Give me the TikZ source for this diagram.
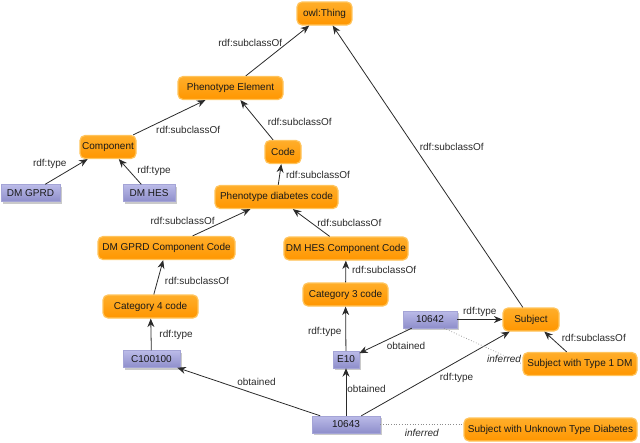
\documentclass[tikz,border=0pt]{standalone}
\usepackage{fontspec}
\setmainfont{Liberation Sans}
\usepackage{tikz}
\usetikzlibrary{arrows.meta,positioning,shadows}

\definecolor{classtop}{HTML}{FFAE2A}
\definecolor{classbot}{HTML}{FF9600}
\definecolor{classline}{HTML}{FFC45C}
\definecolor{insttop}{HTML}{BBBBE8}
\definecolor{instbot}{HTML}{8E8ECB}
\definecolor{instline}{HTML}{A4A4D6}
\definecolor{linkgray}{HTML}{2A2A2A}
\definecolor{dotgray}{HTML}{8C8C8C}

\begin{document}
\begin{tikzpicture}[x=1pt, y=-1pt, >={Stealth[length=8.5pt,width=7pt]},
	class/.style={draw=classline, line width=1.2pt, rounded corners=5pt,
		top color=classtop, bottom color=classbot, minimum height=23pt,
		inner xsep=2pt, text=black!90},
	inst/.style={draw=instline, line width=0.4pt, top color=insttop,
		bottom color=instbot, minimum height=17pt, inner xsep=2pt, text=black!90,
		drop shadow={shadow xshift=2pt, shadow yshift=-2pt, fill=black!60, opacity=0.35}},
	link/.style={->, draw=linkgray, line width=0.8pt},
	dotlink/.style={draw=dotgray, dotted, line width=0.7pt},
	lbl/.style={text=linkgray, inner sep=1pt}]
	
	\useasboundingbox (0,0) rectangle (640,442);
	
	\node [class, minimum width=55pt] (thing) at (324.5,13.5) {owl:Thing};
	\node [class, minimum width=105pt] (element) at (230.5,88) {Phenotype Element};
	\node [class, minimum width=56pt] (component) at (108,147) {Component};
	\node [class, minimum width=36pt] (code) at (283,152) {Code};
	\node [inst, minimum width=59pt] (dmgprd) at (30.5,193) {DM GPRD};
	\node [inst, minimum width=52pt] (dmhes) at (149,193) {DM HES};
	\node [class, minimum width=123pt] (diabcode) at (276.5,197) {Phenotype diabetes code};
	\node [class, minimum width=137pt] (gprdcode) at (166.5,248) {DM GPRD Component Code};
	\node [class, minimum width=124pt] (hescode) at (346,248.5) {DM HES Component Code};
	\node [class, minimum width=95pt] (cat4) at (150.5,306.5) {Category 4 code};
	\node [class, minimum width=85pt] (cat3) at (345.5,294.5) {Category 3 code};
	\node [inst, minimum width=57pt] (c100100) at (151.5,359) {C100100};
	\node [inst, minimum width=26pt] (e10) at (346,359.5) {E10};
	\node [inst, minimum width=54pt] (p10642) at (430,319.5) {10642};
	\node [class, minimum width=56pt] (subject) at (531,319.5) {Subject};
	\node [class, minimum width=114pt] (type1) at (580,364) {Subject with Type 1 DM};
	\node [inst, minimum width=68pt] (p10643) at (346,424.5) {10643};
	\node [class, minimum width=173pt] (unknown) at (550.5,429.5) {Subject with Unknown Type Diabetes};
	
	\draw [link] (element) -- (thing) node [lbl, pos=0.66, left=4pt] {rdf:subclassOf};
	\draw [link] (component) -- (element) node [lbl, pos=0.3, below right=0pt] {rdf:subclassOf};
	\draw [link] (code) -- (element) node [lbl, pos=0.45, right=8pt] {rdf:subclassOf};
	\draw [link] (dmgprd) -- (component) node [lbl, pos=0.55, above left=1pt] {rdf:type};
	\draw [link] (dmhes) -- (component) node [lbl, pos=0.55, right=7pt] {rdf:type};
	\draw [link] (diabcode) -- (code) node [lbl, pos=0.48, right=5pt] {rdf:subclassOf};
	\draw [link] (gprdcode) -- (diabcode) node [lbl, pos=0.56, left=9pt] {rdf:subclassOf};
	\draw [link] (hescode) -- (diabcode) node [lbl, pos=0.48, right=4pt] {rdf:subclassOf};
	\draw [link] (cat4) -- (gprdcode) node [lbl, pos=0.4, right=6pt] {rdf:subclassOf};
	\draw [link] (cat3) -- (hescode) node [lbl, pos=0.56, right=5pt] {rdf:subclassOf};
	\draw [link] (c100100) -- (cat4) node [lbl, pos=0.48, right=7pt] {rdf:type};
	\draw [link] (e10) -- (cat3) node [lbl, pos=0.42, left=3pt] {rdf:type};
	\draw [link] (p10642) -- (subject) node [lbl, midway, above=2pt] {rdf:type};
	\draw [link] (p10642) -- (e10) node [lbl, pos=0.5, below right=0pt] {obtained};
	\draw [link] (p10643) -- (e10) node [lbl, pos=0.57, right=0pt] {obtained};
	\draw [link] (p10643) -- (c100100) node [lbl, pos=0.59, above right=0pt] {obtained};
	\draw [link] (p10643) -- (subject) node [lbl, pos=0.52, below right=0pt] {rdf:type};
	\draw [link] (subject) -- (thing) node [lbl, pos=0.57, right=4pt] {rdf:subclassOf};
	\draw [link] (type1) -- (subject) node [lbl, pos=0.68, right=9pt] {rdf:subclassOf};
	
	\draw [dotlink] ([xshift=14pt]p10642.south) -- (type1.west)
	node [lbl, font=\itshape, pos=1, anchor=south east] {inferred};
	\draw [dotlink] (p10643.east) -- (p10643.east -| unknown.west)
	node [lbl, font=\itshape, midway, below=3pt] {inferred};
	
\end{tikzpicture}
\end{document}
